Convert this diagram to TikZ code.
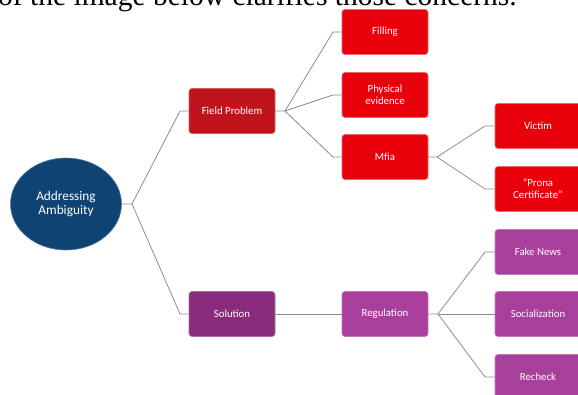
\documentclass[tikz,border=0pt]{standalone}
\usepackage{fontspec}
\usetikzlibrary{shapes.geometric}
\setmainfont{Carlito}
\newfontfamily\serifline{Liberation Serif}
\definecolor{navy}{HTML}{0E4373}
\definecolor{darkred}{HTML}{C0141C}
\definecolor{brightred}{HTML}{E8000B}
\definecolor{darkpurple}{HTML}{8A2C7E}
\definecolor{midpurple}{HTML}{A8409B}
\definecolor{linegray}{HTML}{8C8C8C}
\begin{document}
\begin{tikzpicture}[x=1pt,y=-1pt,
  boxbase/.style={rectangle,rounded corners=3pt,minimum width=86pt,minimum height=45pt,text=white,font=\fontsize{10.8}{11.7}\selectfont,align=center,inner sep=1pt},
  redone/.style={boxbase,fill=darkred,draw=darkred!70!white,line width=0.6pt},
  redtwo/.style={boxbase,fill=brightred,draw=brightred!60!white,line width=0.6pt},
  purpone/.style={boxbase,fill=darkpurple,draw=darkpurple!70!white,line width=0.6pt},
  purptwo/.style={boxbase,fill=midpurple,draw=midpurple!70!white,line width=0.6pt},
  conn/.style={draw=linegray,line width=0.8pt}]
\useasboundingbox (0,0) rectangle (578,394);
\clip (0,0) rectangle (578,394);
\node[anchor=base west,inner sep=0pt,font=\serifline\fontsize{29.5}{32}\selectfont] (topline) at (-2,5) {of the image below clarifies those concerns.};
\node[ellipse,minimum width=111pt,minimum height=92pt,fill=navy,draw=navy!70!white,line width=0.6pt,text=white,align=center,font=\fontsize{13.3}{13.5}\selectfont,inner sep=0pt] (root) at (66,204) {Addressing\\Ambiguity};
\node[redone] (field) at (232,111) {Field Problem};
\node[redtwo] (filling) at (385,32) {Filling};
\node[redtwo] (phys) at (385,95) {Physical\\evidence};
\node[redtwo] (mfia) at (385,157) {Mfia};
\node[redtwo] (victim) at (538,126) {Victim};
\node[redtwo] (prona) at (538,189) {"Prona\\Certificate"};
\node[purpone] (sol) at (232,314) {Solution};
\node[purptwo] (reg) at (385,314) {Regulation};
\node[purptwo] (fake) at (538,252) {Fake News};
\node[purptwo] (soc) at (538,314) {Socialization};
\node[purptwo] (rech) at (538,377) {Recheck};
\coordinate (e0) at (132,204);
\coordinate (e1) at (285,111);
\coordinate (e2) at (437,157);
\coordinate (e3) at (438,314);
\draw[conn] (root.east) -- (e0) -- (180,111) -- (field.west);
\draw[conn] (e0) -- (180,314) -- (sol.west);
\draw[conn] (field.east) -- (e1) -- (333,32) -- (filling.west);
\draw[conn] (e1) -- (333,95) -- (phys.west);
\draw[conn] (e1) -- (333,157) -- (mfia.west);
\draw[conn] (mfia.east) -- (e2) -- (485,126) -- (victim.west);
\draw[conn] (e2) -- (485,189) -- (prona.west);
\draw[conn] (sol.east) -- (reg.west);
\draw[conn] (reg.east) -- (e3) -- (485,252) -- (fake.west);
\draw[conn] (e3) -- (soc.west);
\draw[conn] (e3) -- (485,377) -- (rech.west);
\end{tikzpicture}
\end{document}
